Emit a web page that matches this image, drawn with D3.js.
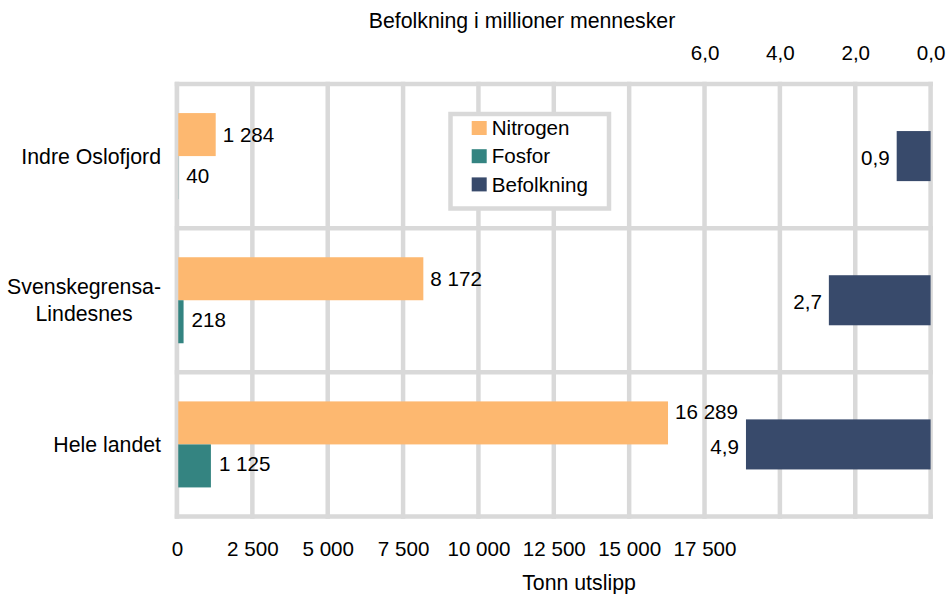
<!DOCTYPE html>
<html>
<head>
<meta charset="utf-8">
<script src="https://cdn.jsdelivr.net/npm/d3@7"></script>
<style>
body { margin: 0; background: #fff; }
svg { display: block; font-family: "Liberation Sans", Arial, sans-serif; font-size: 20.6px; }
text { fill: #000; }
.big { font-size: 21.3px; }
</style>
</head>
<body>
<div id="chart"></div>
<script>
// data
const categories = ["Indre Oslofjord", "Svenskegrensa-\nLindesnes", "Hele landet"]
const nitrogen = [1284, 8172, 16289]
const fosfor = [40, 218, 1125]
const befolkning = [0.9, 2.7, 4.9]
const seriesNames = ["Nitrogen", "Fosfor", "Befolkning"]
const seriesColors = ["#fdb870", "#348481", "#384a6b"]
const bottomTicks = [0, 2500, 5000, 7500, 10000, 12500, 15000, 17500]
const topTicks = [0, 2, 4, 6]

const width = 946
const height = 594
const margin = {top: 84, bottom: 77.5, left: 177, right: 15.4}
const gridColor = "#d9d9d9"
const gridWidth = 4.5

const locale = d3.formatLocale({decimal: ",", thousands: " ", grouping: [3], currency: ["", ""]})
const fmtInt = locale.format(",d")
const fmtDec = locale.format(",.1f")

const rows = categories.map((c, i) => ({cat: c, n: nitrogen[i], f: fosfor[i], b: befolkning[i], i: i}))

// scales: tonnes on the bottom, population (reversed) on top
const x = d3.scaleLinear().domain([0, 25000]).range([margin.left, width - margin.right])
const x2 = d3.scaleLinear().domain([0, 20]).range([width - margin.right, margin.left])
const y = d3.scaleBand().domain(categories).range([margin.top, height - margin.bottom])
const yIn = d3.scaleBand().domain(["Nitrogen", "Fosfor"]).range([0, y.bandwidth()]).paddingOuter(0.676)
const yPop = d3.scaleBand().domain(["Befolkning"]).range([0, y.bandwidth()]).paddingOuter(0.94)

const svg = d3.select("#chart").append("svg").attr("width", width).attr("height", height)

// grid
const grid = svg.append("g")
grid.selectAll("line.v").data(d3.range(0, 25001, 2500)).join("line")
    .attr("class", "v")
    .attr("x1", d => x(d)).attr("x2", d => x(d))
    .attr("y1", margin.top).attr("y2", height - margin.bottom)
grid.selectAll("line.h").data([margin.top].concat(categories.map(c => y(c) + y.bandwidth()))).join("line")
    .attr("class", "h")
    .attr("x1", x(0)).attr("x2", x(25000))
    .attr("y1", d => d).attr("y2", d => d)
grid.selectAll("line")
    .attr("stroke", gridColor)
    .attr("stroke-width", gridWidth)
    .attr("stroke-linecap", "square")

// bars
const bars = svg.append("g")
const barGroups = bars.selectAll("g").data(rows).join("g")
    .attr("transform", d => `translate(0,${y(d.cat)})`)
barGroups.append("rect")
    .attr("x", x(0))
    .attr("y", yIn("Nitrogen"))
    .attr("width", d => x(d.n) - x(0))
    .attr("height", yIn.bandwidth())
    .attr("fill", seriesColors[0])
barGroups.append("rect")
    .attr("x", x(0))
    .attr("y", yIn("Fosfor"))
    .attr("width", d => x(d.f) - x(0))
    .attr("height", yIn.bandwidth())
    .attr("fill", seriesColors[1])
barGroups.append("rect")
    .attr("x", d => x2(d.b))
    .attr("y", yPop("Befolkning"))
    .attr("width", d => x2(0) - x2(d.b))
    .attr("height", yPop.bandwidth())
    .attr("fill", seriesColors[2])

// left border line sits over the bars
svg.append("line")
    .attr("x1", x(0) - 0.5).attr("x2", x(0) - 0.5)
    .attr("y1", margin.top).attr("y2", height - margin.bottom)
    .attr("stroke", gridColor).attr("stroke-width", gridWidth - 1).attr("stroke-linecap", "square")

// value labels (last nitrogen label nudged up so it clears the population label)
const nudge = i => i === 2 ? -11 : 0
barGroups.append("text")
    .attr("x", d => x(d.n) + 7)
    .attr("y", d => yIn("Nitrogen") + yIn.bandwidth() / 2 + nudge(d.i))
    .attr("dy", "0.35em")
    .text(d => fmtInt(d.n))
barGroups.append("text")
    .attr("x", d => x(d.f) + 8)
    .attr("y", d => yIn("Fosfor") + yIn.bandwidth() / 2 - 2)
    .attr("dy", "0.35em")
    .text(d => fmtInt(d.f))
barGroups.append("text")
    .attr("x", d => x2(d.b) - 7)
    .attr("y", d => yPop("Befolkning") + yPop.bandwidth() / 2 + 2)
    .attr("dy", "0.35em")
    .attr("text-anchor", "end")
    .text(d => fmtDec(d.b))

// axes
const xAxisGroup = svg.append("g")
    .attr("transform", `translate(0,${height - margin.bottom})`)
    .call(d3.axisBottom(x).tickValues(bottomTicks).tickSize(0).tickPadding(25).tickFormat(fmtInt))
const topAxisGroup = svg.append("g")
    .attr("transform", `translate(0,${margin.top})`)
    .call(d3.axisTop(x2).tickValues(topTicks).tickSize(0).tickPadding(24.5).tickFormat(fmtDec))
for (const g of [xAxisGroup, topAxisGroup]) {
    g.attr("font-size", null).attr("font-family", null)
    g.select(".domain").remove()
    g.selectAll("text").attr("fill", "#000")
}

// category labels, block right aligned, lines centred inside the block
const lineGap = 27.5
const catGroup = svg.append("g").attr("class", "big")
const catText = catGroup.selectAll("text").data(rows).join("text")
    .attr("text-anchor", "middle")
catText.each(function(d) {
    const lines = d.cat.split("\n")
    const t = d3.select(this)
    const top = y(d.cat) + y.bandwidth() / 2 - (lines.length - 1) * lineGap / 2
    lines.forEach((l, k) => {
        t.append("tspan")
            .attr("y", top + k * lineGap)
            .attr("dy", "0.35em")
            .text(l)
    })
    let w = 0
    t.selectAll("tspan").each(function() { w = Math.max(w, this.getComputedTextLength()) })
    t.selectAll("tspan").attr("x", 161 - w / 2)
})

// axis titles
svg.append("text")
    .attr("class", "big")
    .attr("x", 522).attr("y", 21).attr("dy", "0.35em")
    .attr("text-anchor", "middle")
    .text("Befolkning i millioner mennesker")
svg.append("text")
    .attr("class", "big")
    .attr("x", 579).attr("y", 583).attr("dy", "0.35em")
    .attr("text-anchor", "middle")
    .text("Tonn utslipp")

// legend
const legend = svg.append("g").attr("transform", "translate(450.5,114)")
legend.append("rect")
    .attr("width", 158.5).attr("height", 94.5)
    .attr("fill", "#fff")
    .attr("stroke", gridColor).attr("stroke-width", gridWidth)
const legendItems = legend.selectAll("g").data(seriesNames).join("g")
    .attr("transform", (d, i) => `translate(0,${14 + i * 28.2})`)
legendItems.append("rect")
    .attr("x", 21.2).attr("y", -7)
    .attr("width", 15).attr("height", 14)
    .attr("fill", (d, i) => seriesColors[i])
legendItems.append("text")
    .attr("x", 41.2).attr("dy", "0.35em")
    .text(d => d)
</script>
</body>
</html>
